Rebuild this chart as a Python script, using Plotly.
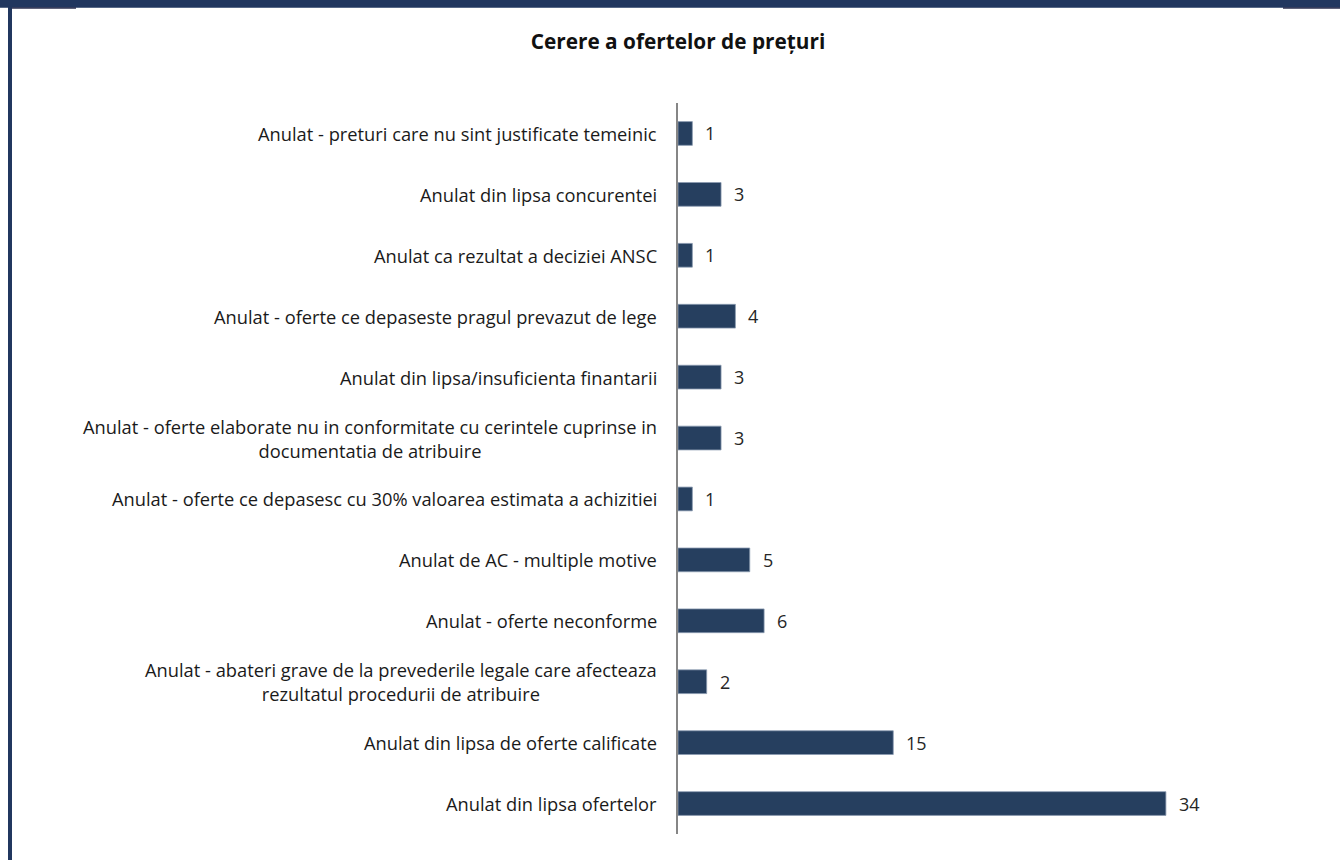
import plotly.graph_objects as go

title = "Cerere a ofertelor de prețuri"
categories = [
    "Anulat - preturi care nu sint justificate temeinic",
    "Anulat din lipsa concurentei",
    "Anulat ca rezultat a deciziei ANSC",
    "Anulat - oferte ce depaseste pragul prevazut de lege",
    "Anulat din lipsa/insuficienta finantarii",
    "Anulat - oferte elaborate nu in conformitate cu cerintele cuprinse in<br>documentatia de atribuire",
    "Anulat - oferte ce depasesc cu 30% valoarea estimata a achizitiei",
    "Anulat de AC - multiple motive",
    "Anulat - oferte neconforme",
    "Anulat - abateri grave de la prevederile legale care afecteaza<br>rezultatul procedurii de atribuire",
    "Anulat din lipsa de oferte calificate",
    "Anulat din lipsa ofertelor",
]
values = [1, 3, 1, 4, 3, 3, 1, 5, 6, 2, 15, 34]

FONT = "Open Sans, sans-serif"
W, H = 1340, 860
left, right_edge = 678, 1252
top, bottom = 102.5, 834.5

fig = go.Figure()
fig.add_trace(go.Bar(
    x=values, y=list(range(len(categories))), orientation="h",
    marker=dict(color="#263f5f", line=dict(color="#8a9ab0", width=0.8)),
    width=0.39, hoverinfo="skip",
))

annotations = []
for i, (c, v) in enumerate(zip(categories, values)):
    annotations.append(dict(
        x=0, y=i, xref="x", yref="y", text=c, showarrow=False,
        xanchor="right", yanchor="middle", align="center", xshift=-19,
        font=dict(family=FONT, size=18.3, color="#1a1a1a"),
    ))
    annotations.append(dict(
        x=v, y=i, xref="x", yref="y", text=str(v), showarrow=False,
        xanchor="left", yanchor="middle", xshift=11,
        font=dict(family=FONT, size=18, color="#262626"),
    ))


def px_x(px):
    return (px - left) / (right_edge - left)


def px_y(py):
    return (bottom - py) / (bottom - top)


shapes = [
    dict(type="rect", xref="paper", yref="paper", x0=px_x(-2), x1=px_x(W + 2), y0=px_y(7), y1=px_y(-2),
         line=dict(width=0), fillcolor="#21375f", layer="above"),
    dict(type="rect", xref="paper", yref="paper", x0=px_x(8), x1=px_x(12), y0=px_y(H + 2), y1=px_y(6),
         line=dict(width=0), fillcolor="#21375f", layer="above"),
    dict(type="rect", xref="paper", yref="paper", x0=px_x(12), x1=px_x(76), y0=px_y(8), y1=px_y(6.5),
         line=dict(width=0), fillcolor="#2a2f4f", layer="above"),
    dict(type="rect", xref="paper", yref="paper", x0=px_x(1283), x1=px_x(1340), y0=px_y(8), y1=px_y(6.5),
         line=dict(width=0), fillcolor="#2a2f4f", layer="above"),
]

fig.update_layout(
    width=W, height=H,
    margin=dict(l=left, r=W - right_edge, t=top, b=H - bottom, pad=0),
    paper_bgcolor="white", plot_bgcolor="white",
    showlegend=False,
    title=dict(text="<b>" + title + "</b>", x=678 / W, xanchor="center", y=1 - 42 / H, yanchor="middle",
               font=dict(family=FONT, size=20.8, color="#111111")),
    xaxis=dict(range=[0, 40], showgrid=False, zeroline=False, showticklabels=False, showline=False, ticks=""),
    yaxis=dict(range=[len(categories) - 0.5, -0.5], showgrid=False, zeroline=False, showticklabels=False,
               showline=True, linecolor="#868686", linewidth=1.5, ticks="", mirror=False),
    annotations=annotations,
    shapes=shapes,
)
fig.write_html("out.html", config={"displayModeBar": False},
               post_script="document.body.style.margin='0';document.body.style.overflow='hidden';")
